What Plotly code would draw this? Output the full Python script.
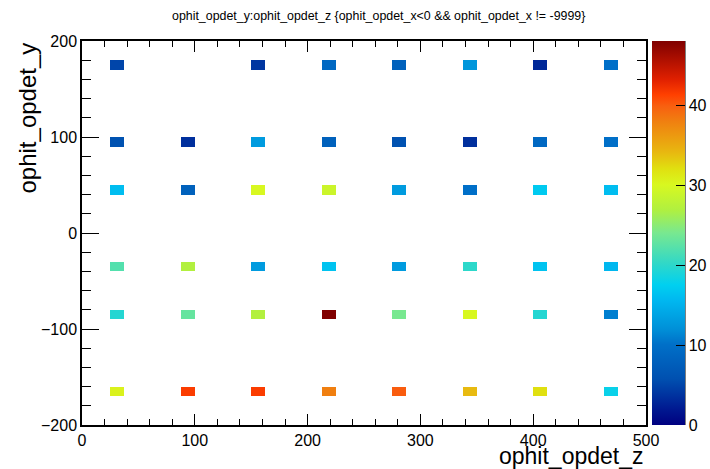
import numpy as np
import plotly.graph_objects as go

# bin centres of the filled cells
z_centers = [31.25, 93.75, 156.25, 218.75, 281.25, 343.75, 406.25, 468.75]
y_centers = [175, 95, 45, -35, -85, -165]
# counts per cell (rows follow y_centers, columns follow z_centers); None = empty
row_175 = [5, None, 4, 9, 8, 12.5, 3, 10]
row_95 = [6, 3.5, 13, 8, 6, 3.5, 9, 10]
row_45 = [16, 8, 30, 29, 13, 10, 17, 16]
row_m35 = [22, 27, 13, 16.5, 13, 20, 16.5, 15.5]
row_m85 = [19.5, 23, 27, 48, 24, 30, 19.5, 11]
row_m165 = [30.5, 41.5, 41.5, 38, 40, 34, 32, 18]
rows = [row_175, row_95, row_45, row_m35, row_m85, row_m165]

# histogram binning (40 x 40)
nbx, xlo, xhi = 40, 0, 500
nby, ylo, yhi = 40, -200, 200
xb = np.linspace(xlo, xhi, nbx + 1)
yb = np.linspace(ylo, yhi, nby + 1)
xc = 0.5 * (xb[:-1] + xb[1:])
yc = 0.5 * (yb[:-1] + yb[1:])
grid = np.full((nby, nbx), np.nan)
for yv, row in zip(y_centers, rows):
    iy = int(np.searchsorted(yb, yv) - 1)
    for xv, val in zip(z_centers, row):
        if val is None:
            continue
        ix = int(np.searchsorted(xb, xv) - 1)
        grid[iy, ix] = val
zmax = float(np.nanmax(grid))

cscale = [
    [0.0, "#000080"], [0.04, "#001890"], [0.12, "#0050b0"], [0.21, "#0070c8"],
    [0.25, "#0090d8"], [0.325, "#00b8f0"], [0.365, "#00d0f0"], [0.42, "#30d8c8"],
    [0.5, "#78e890"], [0.56, "#b0f040"], [0.625, "#d8f820"], [0.667, "#e0e010"],
    [0.71, "#e8b810"], [0.79, "#f08010"], [0.83, "#f86010"], [0.86, "#ff4000"],
    [0.9, "#e02000"], [0.95, "#b01000"], [1.0, "#800000"],
]

FONT = "Liberation Sans, Arial, Helvetica, sans-serif"

# pixel layout
W, H = 710, 469
L, T, B = 82, 41, 44
PW = W - L            # paper width (right margin 0)
PH = H - T - B        # plot height 384
PLOT_W = 564
dom_r = PLOT_W / PW
cb_x0 = (652 - L) / PW
cb_th = 33

def px(xpix):
    return (xpix - L) / PW

def py(ypix):
    return (H - B - ypix) / PH

fig = go.Figure(go.Heatmap(
    x=xc, y=yc, z=grid, zmin=0, zmax=zmax, colorscale=cscale,
    hoverongaps=False,
    colorbar=dict(
        x=cb_x0, xanchor="left", xref="paper", y=0, yanchor="bottom", len=1,
        lenmode="fraction", thickness=cb_th, thicknessmode="pixels", outlinewidth=0,
        xpad=0, ypad=0,
        tickvals=[0, 10, 20, 30, 40], ticks="inside", ticklen=9,
        tickcolor="black", tickwidth=1,
        tickfont=dict(family=FONT, size=16, color="black"),
    ),
))

axcommon = dict(
    showgrid=False, zeroline=False, showline=True, linecolor="black", linewidth=1.5,
    mirror="allticks", ticks="inside", tickcolor="black", tickwidth=1,
    tickfont=dict(family=FONT, size=16, color="black"), automargin=False,
)
fig.update_xaxes(range=[xlo, xhi], dtick=100, tick0=0, ticklen=11, domain=[0, dom_r],
                 minor=dict(dtick=20, ticks="inside", ticklen=6, tickcolor="black"),
                 **axcommon)
fig.update_yaxes(range=[ylo, yhi], dtick=100, tick0=0, ticklen=17,
                 minor=dict(dtick=20, ticks="inside", ticklen=9, tickcolor="black"),
                 **axcommon)

fig.update_layout(
    width=W, height=H,
    margin=dict(l=L, r=0, t=T, b=B, autoexpand=False),
    paper_bgcolor="white", plot_bgcolor="white",
    showlegend=False,
    shapes=[dict(type="line", xref="paper", yref="paper",
                 x0=cb_x0 + cb_th / PW, x1=cb_x0 + cb_th / PW, y0=0, y1=1,
                 line=dict(color="black", width=1))],
    annotations=[
        dict(text="ophit_opdet_y:ophit_opdet_z {ophit_opdet_x<0 && ophit_opdet_x != -9999}",
             xref="paper", yref="paper", x=px(378), y=py(16),
             xanchor="center", yanchor="middle", showarrow=False,
             font=dict(family=FONT, size=12.4, color="black")),
        dict(text="ophit_opdet_z", xref="paper", yref="paper", x=px(646), y=py(456),
             xanchor="right", yanchor="middle", showarrow=False,
             font=dict(family=FONT, size=23, color="black")),
        dict(text="ophit_opdet_y", xref="paper", yref="paper", x=px(27), y=py(41),
             xanchor="center", yanchor="top", textangle=-90, showarrow=False,
             font=dict(family=FONT, size=24, color="black")),
    ],
)

fig.write_html("out.html", config={"displayModeBar": False},
               post_script="document.body.style.margin='0';document.body.style.overflow='hidden';")
